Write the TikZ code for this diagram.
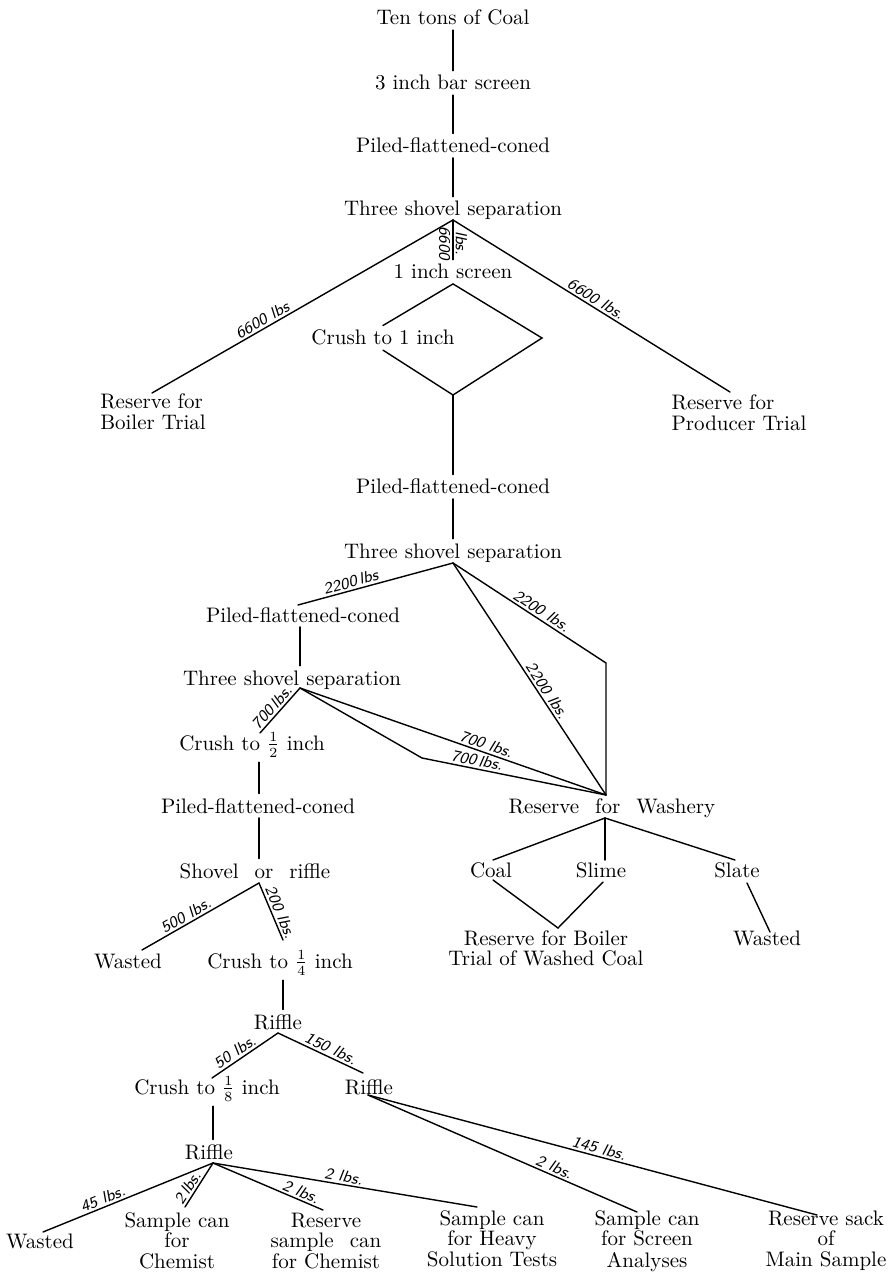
\documentclass[tikz,border=0pt]{standalone}
\usetikzlibrary{calc}
\newcommand{\mlc}[1]{\begin{tabular}[t]{@{}c@{}}#1\end{tabular}}
\newcommand{\mll}[1]{\begin{tabular}[t]{@{}l@{}}#1\end{tabular}}
\newcommand{\wsp}{\hspace{8pt}}
\tikzset{
  lab/.style={font=\fontsize{10.5}{10.3}\selectfont, inner sep=2pt, anchor=base},
  wt/.style={font=\fontsize{8}{8}\selectfont\sffamily\itshape, inner sep=1pt, sloped},
  ln/.style={line width=0.7pt, line cap=round, line join=miter}
}
\begin{document}
\begin{tikzpicture}[x=0.5pt,y=-0.5pt]
\path[use as bounding box] (0,0) rectangle (888,1277);
\begin{scope}[every path/.style={ln}]
% ---- top column ----
\node[lab] (ten)  at (453,25)  {Ten tons of Coal};
\node[lab] (bar)  at (453,90)  {3 inch bar screen};
\node[lab] (pfc1) at (453,153) {Piled-flattened-coned};
\node[lab] (tss1) at (453,216) {Three shovel separation};
\node[lab] (ones) at (453,279) {1 inch screen};
\node[lab] (cr1)  at (383,345) {Crush to 1 inch};
\node[lab] (rbt)  at (153,409) {\mll{Reserve for\\Boiler Trial}};
\node[lab] (rpt)  at (739,410) {\mll{Reserve for\\Producer Trial}};
\coordinate (j1) at (453,220);
\coordinate (e1) at (152,393);
\coordinate (e2) at (730,392);
\draw (ten.south) -- (bar.north);
\draw (bar.south) -- (pfc1.north);
\draw (pfc1.south) -- (tss1.north);
\draw (j1) -- node[wt,below,pos=0.58]{6600} node[wt,above,pos=0.58]{lbs.} (ones.north);
\draw (j1) -- node[wt,above,pos=0.62]{6600 lbs} (e1);
\draw (j1) -- node[wt,above,pos=0.5]{6600 lbs.} (e2);
% ---- diamond ----
\coordinate (dr) at (542,338);
\coordinate (db) at (453,395);
\draw (ones.south) -- (cr1.north);
\draw (cr1.south) -- (db);
\draw (ones.south) -- (dr) -- (db);
% ---- second stage ----
\node[lab] (pfc2) at (453,494) {Piled-flattened-coned};
\node[lab] (tss2) at (453,558) {Three shovel separation};
\draw (db) -- (pfc2.north);
\draw (pfc2.south) -- (tss2.north);
\coordinate (j2) at (453,563);
\coordinate (e3) at (298,605);
\coordinate (b1) at (606,663);
\coordinate (jw) at (606,795);
\draw (j2) -- node[wt,above,pos=0.645]{2200\,lbs} (e3);
\draw (j2) -- node[wt,above,pos=0.55]{2200 lbs.} (b1) -- (jw);
\draw (j2) -- node[wt,above,pos=0.57]{2200 lbs.} (jw);
% ---- third stage ----
\node[lab] (pfc3) at (303,622) {Piled-flattened-coned};
\node[lab] (tss3) at (292,685) {Three shovel separation};
\coordinate (j3) at (300,688);
\draw (pfc3.south -| j3) -- (tss3.north -| j3);
\coordinate (e4) at (260,733);
\coordinate (b2) at (422,758);
\draw (j3) -- node[wt,above,pos=0.55]{700\,lbs.} (e4);
\draw (j3) -- node[wt,above,pos=0.6]{700 lbs.} (jw);
\draw (j3) -- (b2) -- node[wt,above,pos=0.29]{700\,lbs.} (jw);
% ---- half inch ----
\node[lab] (cr2)  at (252,750) {Crush to $\frac{1}{2}$ inch};
\node[lab] (pfc4) at (258,813) {Piled-flattened-coned};
\node[lab] (shov) at (255,878) {Shovel\wsp or\wsp riffle};
\coordinate (j4) at (259,883);
\draw (cr2.south -| j4) -- (pfc4.north -| j4);
\draw (pfc4.south -| j4) -- (shov.north -| j4);
\node[lab] (w1)  at (128,968) {Wasted};
\node[lab] (cr4) at (280,968) {Crush to $\frac{1}{4}$ inch};
\coordinate (e5) at (142,950);
\coordinate (e6) at (283,940);
\draw (j4) -- node[wt,above,pos=0.59]{500 lbs.} (e5);
\draw (j4) -- node[wt,above,pos=0.57]{200 lbs.} (e6);
% ---- riffles ----
\node[lab] (rf1) at (278,1029) {Riffle};
\draw (e6 |- cr4.south) -- (e6 |- rf1.north);
\coordinate (j5) at (278,1033);
\node[lab] (cr8) at (207,1094) {Crush to $\frac{1}{8}$ inch};
\node[lab] (rf2) at (369,1094) {Riffle};
\coordinate (e7) at (212,1078);
\coordinate (e8) at (363,1073);
\draw (j5) -- node[wt,above,pos=0.58]{50 lbs.} (e7);
\draw (j5) -- node[wt,above,pos=0.58]{150 lbs.} (e8);
\node[lab] (rf3) at (209,1159) {Riffle};
\coordinate (j6) at (213,1163);
\draw (j6 |- cr8.south) -- (j6 |- rf3.north);
\coordinate (j7) at (368,1095);
% ---- bottom row ----
\node[lab] (w3)  at (40,1248)  {Wasted};
\node[lab] (chem) at (177,1227) {\mlc{Sample can\\for\\Chemist}};
\node[lab] (rchem) at (326,1227) {\mlc{Reserve\\sample\wsp can\\for Chemist}};
\node[lab] (heavy) at (492,1225) {\mlc{Sample can\\for Heavy\\Solution Tests}};
\node[lab] (scr) at (647,1225) {\mlc{Sample can\\for Screen\\Analyses}};
\node[lab] (sack) at (826,1225) {\mlc{Reserve sack\\of\\Main Sample}};
\coordinate (f1) at (43,1232);
\coordinate (f2) at (185,1207);
\coordinate (f3) at (323,1210);
\coordinate (f4) at (477,1207);
\coordinate (f5) at (637,1212);
\coordinate (f6) at (817,1215);
\draw (j6) -- node[wt,above,pos=0.63]{45 lbs.} (f1);
\draw (j6) -- node[wt,above,pos=0.66]{2\,lbs.} (f2);
\draw (j6) -- node[wt,above,pos=0.77]{2 lbs.} (f3);
\draw (j6) -- node[wt,above,pos=0.49]{2 lbs.} (f4);
\draw (j7) -- node[wt,above,pos=0.68]{2 lbs.} (f5);
\draw (j7) -- node[wt,above,pos=0.51]{145 lbs.} (f6);
% ---- washery ----
\node[lab] (wash) at (612,813) {Reserve\wsp for\wsp Washery};
\coordinate (jw2) at (605,818);
\node[lab] (coal)  at (491,877) {Coal};
\node[lab] (slime) at (601,877) {Slime};
\node[lab] (slate) at (737,877) {Slate};
\coordinate (e9)  at (493,860);
\coordinate (e10) at (605,860);
\coordinate (e11) at (735,860);
\draw (jw2) -- (e9);
\draw (jw2) -- (e10);
\draw (jw2) -- (e11);
\coordinate (e12) at (493,880);
\coordinate (e13) at (603,882);
\coordinate (m1)  at (558,928);
\draw (e12) -- (m1) -- (e13);
\node[lab] (rbw) at (546,945) {\mlc{Reserve for Boiler\\Trial of Washed Coal}};
\node[lab] (w2)  at (767,945) {Wasted};
\coordinate (e14) at (747,883);
\coordinate (e15) at (770,932);
\draw (e14) -- (e15);
\end{scope}
\end{tikzpicture}
\end{document}
